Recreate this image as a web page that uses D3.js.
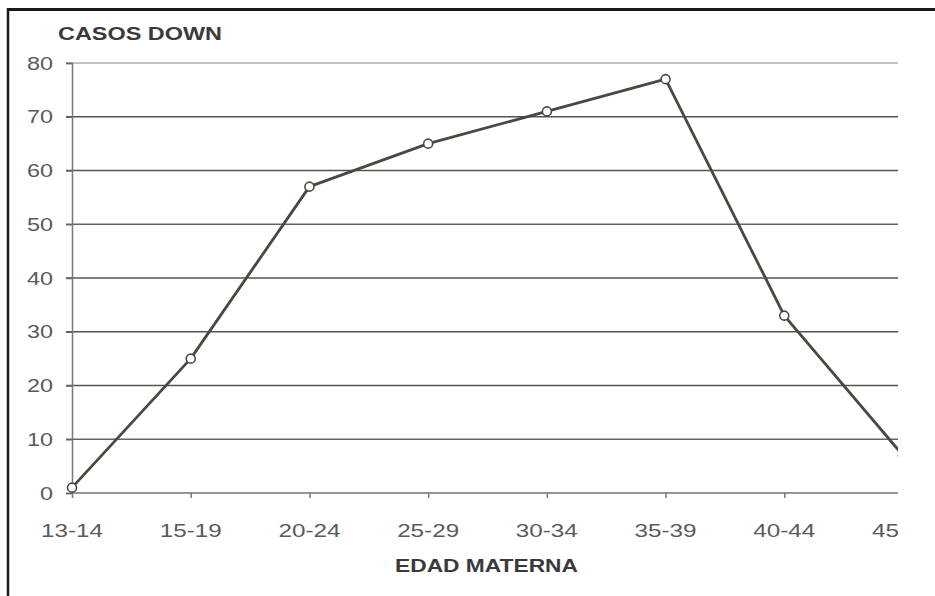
<!DOCTYPE html>
<html>
<head>
<meta charset="utf-8">
<script src="https://cdn.jsdelivr.net/npm/d3@7"></script>
<style>
  html, body { margin: 0; padding: 0; background: #fff; }
  svg { display: block; }
  text { font-family: "Liberation Sans", Arial, sans-serif; }
</style>
</head>
<body>
<svg id="chart" width="935" height="596"></svg>
<script>
const categories = ["13-14", "15-19", "20-24", "25-29", "30-34", "35-39", "40-44", "45-49"];
const casos = [1, 25, 57, 65, 71, 77, 33, 7];
const yTicks = [0, 10, 20, 30, 40, 50, 60, 70, 80];
const yTitle = "CASOS DOWN";
const xTitle = "EDAD MATERNA";

const svg = d3.select("#chart");
const W = 935, H = 596;

svg.append("rect").attr("width", W).attr("height", H).attr("fill", "#fff");

// frame (top and left visible)
svg.append("line").attr("x1", 8).attr("x2", W).attr("y1", 9.5).attr("y2", 9.5)
  .attr("stroke", "#1a1a1a").attr("stroke-width", 3);
svg.append("line").attr("x1", 8).attr("x2", 8).attr("y1", 8).attr("y2", H)
  .attr("stroke", "#1a1a1a").attr("stroke-width", 2.5);

const x = d3.scalePoint().domain(categories).range([72, 903]);
const y = d3.scaleLinear().domain([0, 80]).range([493, 63]);

svg.append("defs").append("clipPath").attr("id", "clip")
  .append("rect").attr("x", 0).attr("y", 0).attr("width", 898).attr("height", H);

const g = svg.append("g").attr("clip-path", "url(#clip)");

// gridlines
g.append("g").selectAll("line").data(yTicks.filter(d => d > 0)).join("line")
  .attr("x1", 66).attr("x2", 898)
  .attr("y1", d => y(d)).attr("y2", d => y(d))
  .attr("stroke", d => d === 80 ? "#b8aab8" : (d === 50 || d === 10 ? "#6a6070" : "#555550"))
  .attr("stroke-width", 1.5);

// y axis
const yAxis = g.append("g").attr("transform", "translate(72,0)")
  .call(d3.axisLeft(y).tickValues(yTicks).tickSize(6).tickFormat(""));
yAxis.select(".domain").attr("stroke", "#777").attr("stroke-width", 1.5);
yAxis.selectAll(".tick line").attr("stroke", "#666").attr("stroke-width", 1.5);

// x axis
const xAxis = g.append("g").attr("transform", "translate(0,493)")
  .call(d3.axisBottom(x).tickSize(5).tickFormat("").tickSizeOuter(0));
xAxis.select(".domain").attr("stroke", "#7a7080").attr("stroke-width", 1.5)
  .attr("d", "M72,0H898");
xAxis.selectAll(".tick line").attr("stroke", "#777").attr("stroke-width", 1.5);

// y tick labels
g.append("g").selectAll("text").data(yTicks).join("text")
  .attr("x", 53).attr("y", d => y(d) + 6.5)
  .attr("text-anchor", "end")
  .attr("font-size", 18).attr("fill", "#5a5a5a")
  .attr("textLength", d => String(d).length * 13)
  .attr("lengthAdjust", "spacingAndGlyphs")
  .text(d => d);

// x tick labels
g.append("g").selectAll("text").data(categories).join("text")
  .attr("x", d => x(d)).attr("y", 537)
  .attr("text-anchor", "middle")
  .attr("font-size", 18).attr("fill", "#5a5a5a")
  .attr("textLength", 62)
  .attr("lengthAdjust", "spacingAndGlyphs")
  .text(d => d);

// line
const line = d3.line().x((d, i) => x(categories[i])).y(d => y(d));
g.append("path").datum(casos)
  .attr("d", line).attr("fill", "none")
  .attr("stroke", "#474a40").attr("stroke-width", 2.8)
  .attr("stroke-linejoin", "round");

g.append("g").selectAll("circle").data(casos).join("circle")
  .attr("cx", (d, i) => x(categories[i])).attr("cy", d => y(d))
  .attr("r", 4.5).attr("fill", "#fff")
  .attr("stroke", "#474a40").attr("stroke-width", 1.6);

// titles
svg.append("text").attr("x", 58).attr("y", 40)
  .attr("font-size", 19).attr("font-weight", "bold").attr("fill", "#3a3a3a")
  .attr("textLength", 164).attr("lengthAdjust", "spacingAndGlyphs")
  .text(yTitle);

svg.append("text").attr("x", 395).attr("y", 572)
  .attr("font-size", 19).attr("font-weight", "bold").attr("fill", "#3a3a3a")
  .attr("textLength", 183).attr("lengthAdjust", "spacingAndGlyphs")
  .text(xTitle);
</script>
</body>
</html>
